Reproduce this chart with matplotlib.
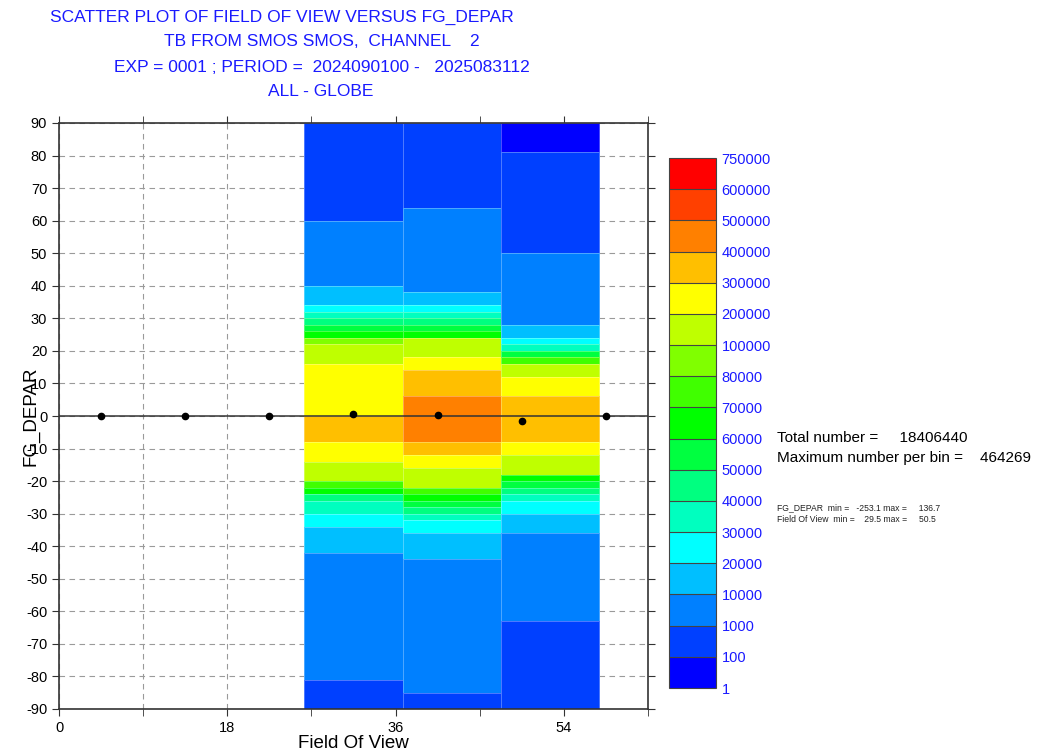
import numpy as np
import matplotlib.pyplot as plt
from matplotlib.colors import ListedColormap, BoundaryNorm
from matplotlib.cm import ScalarMappable
from matplotlib.ticker import MultipleLocator

plt.rcParams['font.family'] = ['Liberation Sans', 'DejaVu Sans']
plt.rcParams['axes.unicode_minus'] = False

# colour classes (number of obs per bin)
levels = [1, 100, 1000, 10000, 20000, 30000, 40000, 50000, 60000, 70000, 80000,
          100000, 200000, 300000, 400000, 500000, 600000, 750000]
colors = ['#0000FF', '#0040FF', '#0080FF', '#00BFFF', '#00FFFF', '#00FFBF', '#00FF80',
          '#00FF40', '#00FF00', '#40FF00', '#80FF00', '#BFFF00', '#FFFF00', '#FFBF00',
          '#FF8000', '#FF4000', '#FF0000']

# field of view bins
fov_left = [26.25, 36.75, 47.25]
fov_width = 10.5

# FG_DEPAR band edges (top -> bottom) and counts per band, one set per FOV bin
edges_1 = [90, 60, 40, 34, 32, 30, 28, 26, 24, 22, 16, 0, -8, -14, -20, -22, -24,
           -26, -30, -34, -42, -81, -90]
counts_1 = [500, 5000, 15000, 25000, 35000, 45000, 55000, 65000, 90000, 150000,
            250000, 350000, 250000, 150000, 75000, 65000, 45000, 35000, 25000,
            15000, 5000, 500]

edges_2 = [90, 64, 38, 34, 32, 30, 28, 26, 24, 18, 14, 6, -8, -12, -16, -22, -24,
           -26, -28, -30, -32, -36, -44, -85, -90]
counts_2 = [500, 5000, 15000, 25000, 35000, 45000, 55000, 65000, 150000, 250000,
            350000, 464269, 350000, 250000, 150000, 75000, 65000, 55000, 45000,
            35000, 25000, 15000, 5000, 500]

edges_3 = [90, 81, 50, 28, 24, 22, 20, 18, 16, 12, 6, -8, -12, -18, -20, -22, -24,
           -26, -30, -36, -63, -90]
counts_3 = [50, 500, 5000, 15000, 25000, 35000, 55000, 75000, 150000, 250000,
            350000, 250000, 150000, 65000, 55000, 45000, 35000, 25000, 15000,
            5000, 500]

# mean FG_DEPAR per field of view class
fov_mid = [4.5, 13.5, 22.5, 31.5, 40.5, 49.5, 58.5]
mean_dep = [0, 0, 0, 0.6, 0.3, -1.5, 0]

title_lines = ['SCATTER PLOT OF FIELD OF VIEW VERSUS FG_DEPAR',
               'TB FROM SMOS SMOS,  CHANNEL    2',
               'EXP = 0001 ; PERIOD =  2024090100 -   2025083112',
               'ALL - GLOBE']

cmap = ListedColormap(colors)
norm = BoundaryNorm(levels, cmap.N)
blue = '#1a1aff'

fig = plt.figure(figsize=(10.46, 7.55), dpi=100)
ax = fig.add_axes([59/1046, 46/755, 589/1046, 586/755])

ax.set_axisbelow(True)
ax.xaxis.set_major_locator(MultipleLocator(18))
ax.xaxis.set_minor_locator(MultipleLocator(9))
ax.yaxis.set_major_locator(MultipleLocator(10))
ax.grid(True, which='both', axis='x', color='#9a9a9a', ls=(0, (5, 4)), lw=0.8)
ax.grid(True, which='major', axis='y', color='#9a9a9a', ls=(0, (5, 4)), lw=0.8)

for left, edges, counts in zip(fov_left, [edges_1, edges_2, edges_3],
                               [counts_1, counts_2, counts_3]):
    X = np.array([left, left + fov_width])
    Y = np.array(edges)
    C = np.array(counts).reshape(-1, 1)
    ax.pcolormesh(X, Y, C, cmap=cmap, norm=norm, edgecolors=(1, 1, 1, 0.3), linewidth=0.5)

ax.axhline(0, color='#333333', lw=1.1, zorder=3)
ax.plot(fov_mid, mean_dep, 'o', color='black', ms=4.5, zorder=4)

ax.set_xlim(0, 63)
ax.set_ylim(-90, 90)
ax.tick_params(which='both', direction='out', top=True, right=True, labelsize=10.5,
               color='#333333', length=5)
for s in ax.spines.values():
    s.set_color('#333333')
    s.set_linewidth(1.2)
ax.set_xlabel('Field Of View', fontsize=13.5, labelpad=0)
ax.set_ylabel('FG_DEPAR', fontsize=13.5)
ax.yaxis.set_label_coords(-0.033, 0.5)

# title lines
title_x = [282, 322, 322, 321]
title_y = [17, 42, 67, 92]
for t, x, y in zip(title_lines, title_x, title_y):
    fig.text(x/1046, 1 - y/755, t, color=blue, fontsize=12.5, ha='center', va='center')

# colour bar
cax = fig.add_axes([669/1046, 67/755, 47/1046, 530/755])
cb = fig.colorbar(ScalarMappable(norm=norm, cmap=cmap), cax=cax, spacing='uniform',
                  drawedges=True, ticks=levels)
cb.ax.set_yticklabels([str(v) for v in levels])
cb.ax.tick_params(labelsize=10.5, labelcolor=blue, length=0, pad=4)
cb.outline.set_edgecolor('#444444')
cb.dividers.set_color('#444444')
cb.dividers.set_linewidth(0.8)

fig.text(777/1046, 1 - 438/755, 'Total number =     18406440', fontsize=11, va='center')
fig.text(777/1046, 1 - 458/755, 'Maximum number per bin =    464269', fontsize=11, va='center')
fig.text(777/1046, 1 - 508/755, 'FG_DEPAR  min =   -253.1 max =     136.7', fontsize=6.2,
         va='center', color='#222222')
fig.text(777/1046, 1 - 520/755, 'Field Of View  min =    29.5 max =     50.5', fontsize=6.2,
         va='center', color='#222222')

fig.savefig('out.png', dpi=100)
